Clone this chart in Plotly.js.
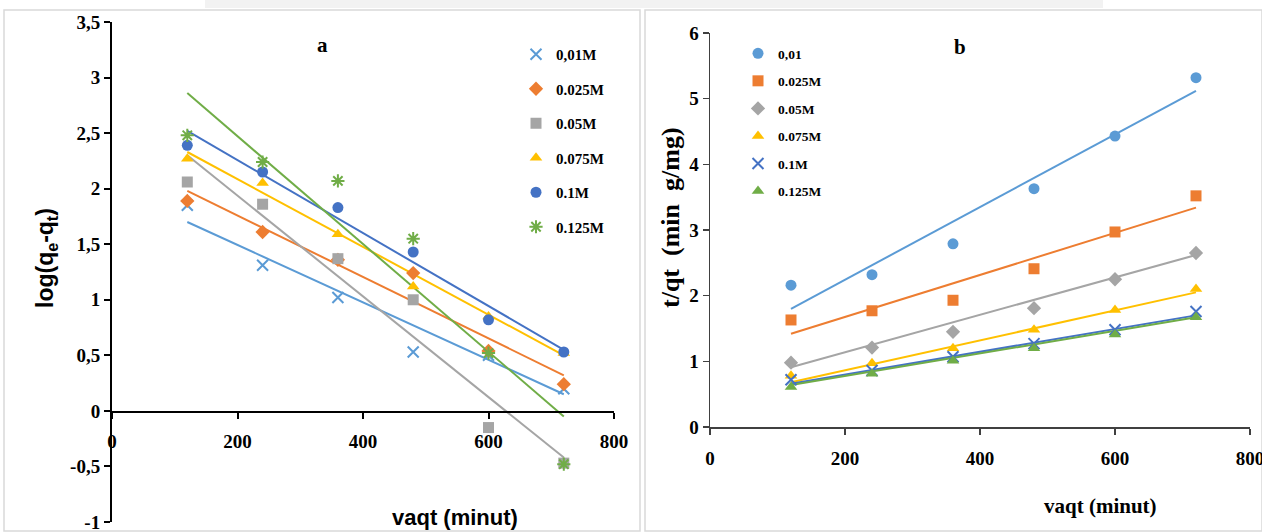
<!DOCTYPE html>
<html>
<head>
<meta charset="utf-8">
<script src="https://cdn.plot.ly/plotly-3.0.1.min.js"></script>
<style>
html,body{margin:0;padding:0;background:#fff;overflow:hidden;}
#chart{width:1262px;height:532px;}
</style>
</head>
<body>
<div id="chart"></div>
<script>
// ---------- data ----------
const timeMin = [120, 240, 360, 480, 600, 720];
const fitX = [120, 720];

// Panel a : pseudo-first-order, log(qe-qt)
const namesA = ['0,01M', '0.025M', '0.05M', '0.075M', '0.1M', '0.125M'];
const logA_001  = [1.85, 1.31, 1.02, 0.53, 0.50, 0.20];
const logA_0025 = [1.89, 1.61, 1.36, 1.24, 0.54, 0.24];
const logA_005  = [2.06, 1.86, 1.37, 1.00, -0.15, -0.47];
const logA_0075 = [2.27, 2.05, 1.59, 1.12, 0.85, 0.52];
const logA_01   = [2.39, 2.15, 1.83, 1.43, 0.82, 0.53];
const logA_0125 = [2.48, 2.24, 2.07, 1.55, 0.52, -0.48];
const fitA_001  = [1.70, 0.15];
const fitA_0025 = [1.98, 0.32];
const fitA_005  = [2.30, -0.42];
const fitA_0075 = [2.33, 0.50];
const fitA_01   = [2.52, 0.55];
const fitA_0125 = [2.86, -0.05];

// Panel b : pseudo-second-order, t/qt
const namesB = ['0,01', '0.025M', '0.05M', '0.075M', '0.1M', '0.125M'];
const tqB_001  = [2.16, 2.32, 2.79, 3.63, 4.43, 5.32];
const tqB_0025 = [1.63, 1.77, 1.93, 2.41, 2.97, 3.52];
const tqB_005  = [0.98, 1.21, 1.45, 1.81, 2.25, 2.65];
const tqB_0075 = [0.78, 0.97, 1.20, 1.48, 1.78, 2.10];
const tqB_01   = [0.72, 0.86, 1.07, 1.27, 1.48, 1.76];
const tqB_0125 = [0.61, 0.81, 1.01, 1.20, 1.41, 1.67];
const fitB_001  = [1.80, 5.12];
const fitB_0025 = [1.42, 3.34];
const fitB_005  = [0.91, 2.62];
const fitB_0075 = [0.68, 2.05];
const fitB_01   = [0.66, 1.70];
const fitB_0125 = [0.64, 1.67];

const xTicks = [0, 200, 400, 600, 800];
const yTicksA = [-1, -0.5, 0, 0.5, 1, 1.5, 2, 2.5, 3, 3.5];
const yTickTextA = ['-1', '-0,5', '0', '0,5', '1', '1,5', '2', '2,5', '3', '3,5'];
const yTicksB = [0, 1, 2, 3, 4, 5, 6];

// ---------- styling ----------
const W = 1262, H = 532;
const px = v => v / W;
const py = v => 1 - v / H;
const SERIF = 'Liberation Serif, Times New Roman, serif';
const SANS = 'Liberation Sans, Arial, sans-serif';

const colA = ['#5B9BD5', '#ED7D31', '#A5A5A5', '#FFC000', '#4472C4', '#70AD47'];
const symA = ['x-thin-open', 'diamond', 'square', 'triangle-up', 'circle', 'asterisk-open'];
const colB = ['#5B9BD5', '#ED7D31', '#A5A5A5', '#FFC000', '#4472C4', '#70AD47'];
const symB = ['circle', 'square', 'diamond', 'triangle-up', 'x-thin-open', 'triangle-up'];

const dataA = [logA_001, logA_0025, logA_005, logA_0075, logA_01, logA_0125];
const fitsA = [fitA_001, fitA_0025, fitA_005, fitA_0075, fitA_01, fitA_0125];
const dataB = [tqB_001, tqB_0025, tqB_005, tqB_0075, tqB_01, tqB_0125];
const fitsB = [fitB_001, fitB_0025, fitB_005, fitB_0075, fitB_01, fitB_0125];

function markerOf(sym, col, size) {
  const open = sym.indexOf('open') >= 0;
  return open
    ? {symbol: sym, size: size, color: col, line: {color: col, width: 2}}
    : {symbol: sym, size: size, color: col, line: {width: 0}};
}

const traces = [];
fitsA.forEach((f, i) => traces.push({
  x: fitX, y: f, mode: 'lines', xaxis: 'x', yaxis: 'y',
  line: {color: colA[i], width: 2}, showlegend: false, hoverinfo: 'skip'
}));
dataA.forEach((d, i) => traces.push({
  x: timeMin, y: d, mode: 'markers', name: namesA[i], xaxis: 'x', yaxis: 'y',
  marker: markerOf(symA[i], colA[i], 11), legend: 'legend', legendgroup: 'a' + i
}));
fitsB.forEach((f, i) => traces.push({
  x: fitX, y: f, mode: 'lines', xaxis: 'x2', yaxis: 'y2',
  line: {color: colB[i], width: 2}, showlegend: false, hoverinfo: 'skip'
}));
dataB.forEach((d, i) => traces.push({
  x: timeMin, y: d, mode: 'markers', name: namesB[i], xaxis: 'x2', yaxis: 'y2',
  marker: markerOf(symB[i], colB[i], 11), legend: 'legend2', legendgroup: 'b' + i
}));

const tickFont = {family: SERIF, size: 19, color: '#000', weight: 'bold'};

const layout = {
  width: W, height: H,
  margin: {l: 0, r: 0, t: 0, b: 0},
  paper_bgcolor: '#fff', plot_bgcolor: 'rgba(0,0,0,0)',
  separators: ',.',
  showlegend: true,
  xaxis: {
    domain: [px(112), px(614)], range: [0, 800], anchor: 'free', position: py(412),
    tickvals: xTicks, showgrid: false, zeroline: false,
    showline: true, linecolor: '#000', linewidth: 2,
    ticks: 'outside', ticklen: 6, tickwidth: 2, tickcolor: '#000',
    tickfont: tickFont, ticklabelstandoff: 6, ticklabeloverflow: 'allow'
  },
  yaxis: {
    domain: [py(522), py(22)], range: [-1, 3.5], anchor: 'x',
    tickvals: yTicksA, ticktext: yTickTextA, showgrid: false, zeroline: false,
    showline: true, linecolor: '#000', linewidth: 2,
    ticks: 'outside', ticklen: 6, tickwidth: 2, tickcolor: '#000',
    tickfont: tickFont, ticklabeloverflow: 'allow'
  },
  xaxis2: {
    domain: [px(710), px(1250)], range: [0, 800], anchor: 'y2',
    tickvals: xTicks, showgrid: false, zeroline: false,
    showline: true, linecolor: '#404040', linewidth: 1.5,
    ticks: 'outside', ticklen: 6, tickwidth: 1.5, tickcolor: '#404040',
    tickfont: tickFont, ticklabelstandoff: 8, ticklabeloverflow: 'allow'
  },
  yaxis2: {
    domain: [py(427), py(33)], range: [0, 6], anchor: 'x2',
    tickvals: yTicksB, showgrid: false, zeroline: false,
    showline: true, linecolor: '#404040', linewidth: 1.5,
    ticks: 'outside', ticklen: 6, tickwidth: 1.5, tickcolor: '#404040',
    tickfont: tickFont, ticklabeloverflow: 'allow'
  },
  legend: {
    x: px(516), y: py(38), xanchor: 'left', yanchor: 'top',
    bgcolor: 'rgba(0,0,0,0)', borderwidth: 0,
    font: {family: SERIF, size: 15, color: '#000', weight: 'bold'},
    tracegroupgap: 12, itemwidth: 30
  },
  legend2: {
    x: px(738), y: py(38), xanchor: 'left', yanchor: 'top',
    bgcolor: 'rgba(0,0,0,0)', borderwidth: 0,
    font: {family: SERIF, size: 13.5, color: '#000', weight: 'bold'},
    tracegroupgap: 7, itemwidth: 30
  },
  shapes: [
    {type: 'rect', xref: 'paper', yref: 'paper', x0: px(205), x1: px(1103), y0: py(8), y1: py(0),
     fillcolor: '#f2f2f2', line: {width: 0}, layer: 'below'},
    {type: 'rect', xref: 'paper', yref: 'paper', x0: px(4), x1: px(640), y0: py(531), y1: py(10),
     fillcolor: 'rgba(0,0,0,0)', line: {color: '#d9d9d9', width: 1.5}, layer: 'below'},
    {type: 'rect', xref: 'paper', yref: 'paper', x0: px(645), x1: px(1262), y0: py(531), y1: py(10),
     fillcolor: 'rgba(0,0,0,0)', line: {color: '#d9d9d9', width: 1.5}, layer: 'below'}
  ],
  annotations: [
    {text: 'a', xref: 'paper', yref: 'paper', x: px(322), y: py(45), showarrow: false,
     xanchor: 'center', yanchor: 'middle', font: {family: SERIF, size: 21, color: '#000', weight: 'bold'}},
    {text: 'b', xref: 'paper', yref: 'paper', x: px(960), y: py(47), showarrow: false,
     xanchor: 'center', yanchor: 'middle', font: {family: SERIF, size: 21, color: '#000', weight: 'bold'}},
    {text: 'log(q<sub>e</sub>-q<sub>t</sub>)', xref: 'paper', yref: 'paper', x: px(46), y: py(258),
     showarrow: false, textangle: -90, xanchor: 'center', yanchor: 'middle',
     font: {family: SANS, size: 23, color: '#000', weight: 'bold'}},
    {text: 'vaqt (minut)', xref: 'paper', yref: 'paper', x: px(455), y: py(517), showarrow: false,
     xanchor: 'center', yanchor: 'middle', font: {family: SANS, size: 22, color: '#000', weight: 'bold'}},
    {text: 't/qt  (min  g/mg)', xref: 'paper', yref: 'paper', x: px(670), y: py(218),
     showarrow: false, textangle: -90, xanchor: 'center', yanchor: 'middle',
     font: {family: SERIF, size: 26, color: '#000', weight: 'bold'}},
    {text: 'vaqt (minut)', xref: 'paper', yref: 'paper', x: px(1100), y: py(506), showarrow: false,
     xanchor: 'center', yanchor: 'middle', font: {family: SERIF, size: 21, color: '#000', weight: 'bold'}}
  ]
};

Plotly.newPlot('chart', traces, layout, {displayModeBar: false, staticPlot: true});
</script>
</body>
</html>
